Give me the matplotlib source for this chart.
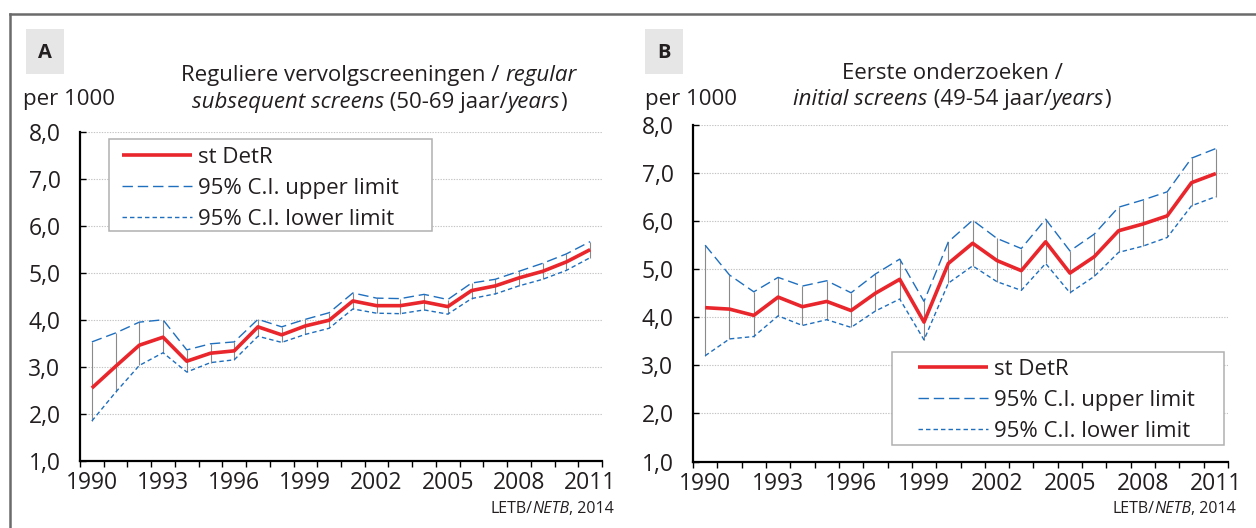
import matplotlib
matplotlib.use('Agg')
import matplotlib.pyplot as plt
from matplotlib.lines import Line2D
from matplotlib.patches import Rectangle
from matplotlib.ticker import FixedLocator, NullFormatter

# ---------------- data ----------------
years = list(range(1990, 2012))
year_labels = ['1990', '1993', '1996', '1999', '2002', '2005', '2008', '2011']
y_ticks = [1, 2, 3, 4, 5, 6, 7, 8]
y_tick_labels = ['1,0', '2,0', '3,0', '4,0', '5,0', '6,0', '7,0', '8,0']

a_rate = [2.55, 3.01, 3.46, 3.63, 3.12, 3.29, 3.34, 3.85, 3.68, 3.87, 3.99,
          4.40, 4.30, 4.30, 4.38, 4.28, 4.62, 4.72, 4.89, 5.03, 5.23, 5.49]
a_upper = [3.53, 3.72, 3.95, 4.00, 3.36, 3.49, 3.53, 4.01, 3.85, 4.01, 4.15,
           4.57, 4.46, 4.45, 4.54, 4.43, 4.78, 4.86, 5.03, 5.20, 5.40, 5.66]
a_lower = [1.85, 2.46, 3.03, 3.30, 2.89, 3.09, 3.15, 3.65, 3.52, 3.69, 3.82,
           4.23, 4.14, 4.13, 4.21, 4.12, 4.45, 4.55, 4.72, 4.86, 5.05, 5.32]

b_rate = [4.20, 4.17, 4.04, 4.42, 4.22, 4.33, 4.14, 4.50, 4.79, 3.90, 5.12,
          5.54, 5.18, 4.97, 5.57, 4.92, 5.26, 5.80, 5.94, 6.11, 6.80, 6.99]
b_upper = [5.50, 4.88, 4.53, 4.83, 4.65, 4.76, 4.51, 4.90, 5.21, 4.33, 5.57,
           6.02, 5.64, 5.43, 6.04, 5.38, 5.73, 6.29, 6.44, 6.61, 7.31, 7.51]
b_lower = [3.20, 3.55, 3.60, 4.03, 3.83, 3.95, 3.79, 4.13, 4.38, 3.53, 4.71,
           5.07, 4.74, 4.56, 5.12, 4.51, 4.85, 5.35, 5.48, 5.66, 6.32, 6.51]

series_labels = ['st DetR', '95% C.I. upper limit', '95% C.I. lower limit']

# ---------------- style ----------------
FONT = 'Open Sans'
plt.rcParams['font.family'] = [FONT, 'DejaVu Sans']
RED = '#e8262c'
BLUE = '#1f6fbf'
HILO = '#8a8a8a'
GRID = '#c4c4c4'
TXT = '#231f20'
FS = 16.0       # legend / title text
FS_TICK = 16.5  # tick labels
FS_SRC = 11.5   # source note

W, H = 1256, 528
fig = plt.figure(figsize=(W / 100, H / 100), dpi=100)


def fx(px):
    return px / W


def fy(py):
    return 1 - py / H


def make_ax(l, r, t, b):
    return fig.add_axes([fx(l), fy(b), fx(r) - fx(l), fy(t) - fy(b)])


renderer = fig.canvas.get_renderer()


def seg_width(s, style, size):
    t1 = fig.text(0, 0, '|' + s + '|', fontsize=size, style=style)
    t2 = fig.text(0, 0, '||', fontsize=size, style=style)
    w = t1.get_window_extent(renderer).width - t2.get_window_extent(renderer).width
    t1.remove()
    t2.remove()
    return w


def rich_text(x_px, y_px, segments, size, ha='center'):
    widths = [seg_width(s, st, size) for s, st in segments]
    total = sum(widths)
    if ha == 'center':
        x0 = x_px - total / 2
    elif ha == 'right':
        x0 = x_px - total
    else:
        x0 = x_px
    for (s, st), w in zip(segments, widths):
        fig.text(fx(x0), fy(y_px), s, fontsize=size, style=st, color=TXT,
                 ha='left', va='center_baseline')
        x0 += w


def draw_panel(ax, rate, upper, lower, frame_box, handle_x, row1_y):
    x = list(range(len(years)))
    ax.vlines(x, lower, upper, colors=HILO, linewidth=0.8, zorder=2)
    h_up, = ax.plot(x, upper, color=BLUE, lw=1.0, dashes=(7.5, 3.5), zorder=3)
    h_lo, = ax.plot(x, lower, color=BLUE, lw=1.0, dashes=(3.2, 2.2), zorder=3)
    h_r, = ax.plot(x, rate, color=RED, lw=2.6, zorder=4, solid_capstyle='butt')
    ax.set_xlim(-0.5, len(years) - 0.5)
    ax.set_ylim(1, 8)
    ax.set_yticks(y_ticks)
    ax.set_yticklabels(y_tick_labels)
    ax.yaxis.grid(True, linestyle=(0, (1.2, 1.2)), color=GRID, lw=0.8)
    ax.set_axisbelow(True)
    # x ticks at category boundaries, labels at every third category
    ax.xaxis.set_major_locator(FixedLocator([i - 0.5 for i in range(len(years) + 1)]))
    ax.xaxis.set_major_formatter(NullFormatter())
    label_pos = [years.index(int(y)) for y in year_labels]
    ax.xaxis.set_minor_locator(FixedLocator(label_pos))
    ax.set_xticklabels(year_labels, minor=True)
    ax.tick_params(axis='x', which='major', direction='out', length=4.5, width=1.0, color='black')
    ax.tick_params(axis='x', which='minor', length=0, pad=7.5, labelsize=FS_TICK, labelcolor=TXT)
    ax.tick_params(axis='y', which='major', direction='in', length=4.5, width=1.0,
                   pad=14, labelsize=FS_TICK, labelcolor=TXT)
    for s in ['top', 'right']:
        ax.spines[s].set_visible(False)
    for s in ['left', 'bottom']:
        ax.spines[s].set_linewidth(1.6)
        ax.spines[s].set_color('black')
    # legend frame drawn separately for exact placement
    l, r, t, b = frame_box
    ax.add_patch(Rectangle((fx(l), fy(b)), fx(r) - fx(l), fy(t) - fy(b),
                           transform=fig.transFigure, facecolor='white',
                           edgecolor='#b0b0b0', linewidth=1.1, zorder=4.8,
                           clip_on=False))
    fs_px = FS * 100 / 72
    row_h = 1.03 * fs_px
    leg = ax.legend([h_r, h_up, h_lo], series_labels, loc='upper left',
                    bbox_to_anchor=(fx(handle_x), fy(row1_y - row_h / 2 + 3)),
                    bbox_transform=fig.transFigure, borderaxespad=0, borderpad=0,
                    fontsize=FS, frameon=False,
                    handlelength=70 / fs_px, handletextpad=6 / fs_px,
                    labelspacing=(33 - row_h) / fs_px)
    leg.set_zorder(5)
    for t_ in leg.get_texts():
        t_.set_color(TXT)
    return ax


axA = make_ax(80, 602, 131.5, 461)
draw_panel(axA, a_rate, a_upper, a_lower, (109, 432, 139, 231), 122, 155)
axB = make_ax(693, 1228, 125, 461.5)
draw_panel(axB, b_rate, b_upper, b_lower, (892, 1224, 352, 445), 918, 367)

# panel letters
for (l, r, t, b), letter in [((26, 64, 29, 74), 'A'), ((645, 683, 29, 74), 'B')]:
    fig.patches.append(Rectangle((fx(l), fy(b)), fx(r) - fx(l), fy(t) - fy(b),
                                 transform=fig.transFigure, facecolor='#e6e6e7',
                                 edgecolor='none', zorder=0))
    fig.text(fx((l + r) / 2), fy(53), letter, fontsize=14.5, fontweight='bold',
             color=TXT, ha='center', va='center')

# unit labels
fig.text(fx(23), fy(100), 'per 1000', fontsize=FS, color=TXT, ha='left', va='center')
fig.text(fx(645), fy(100), 'per 1000', fontsize=FS, color=TXT, ha='left', va='center')

# titles
rich_text(379, 73, [('Reguliere vervolgscreeningen / ', 'normal'), ('regular', 'italic')], FS)
rich_text(379, 100, [('subsequent screens', 'italic'), (' (50-69 jaar/', 'normal'),
                     ('years', 'italic'), (')', 'normal')], FS)
rich_text(952, 71, [('Eerste onderzoeken /', 'normal')], FS)
rich_text(952, 97, [('initial screens', 'italic'), (' (49-54 jaar/', 'normal'),
                    ('years', 'italic'), (')', 'normal')], FS)

# source notes
src = [('LETB/', 'normal'), ('NETB', 'italic'), (', 2014', 'normal')]
rich_text(614, 507, src, FS_SRC, ha='right')
rich_text(1236, 507, src, FS_SRC, ha='right')

# outer frame (top and left edges)
fig.add_artist(Line2D([fx(10), fx(W)], [fy(14), fy(14)], transform=fig.transFigure,
                      color='#6b6b6b', lw=1.8))
fig.add_artist(Line2D([fx(10), fx(10)], [fy(14), fy(H)], transform=fig.transFigure,
                      color='#6b6b6b', lw=1.8))

fig.savefig('out.png', dpi=100, facecolor='white')
